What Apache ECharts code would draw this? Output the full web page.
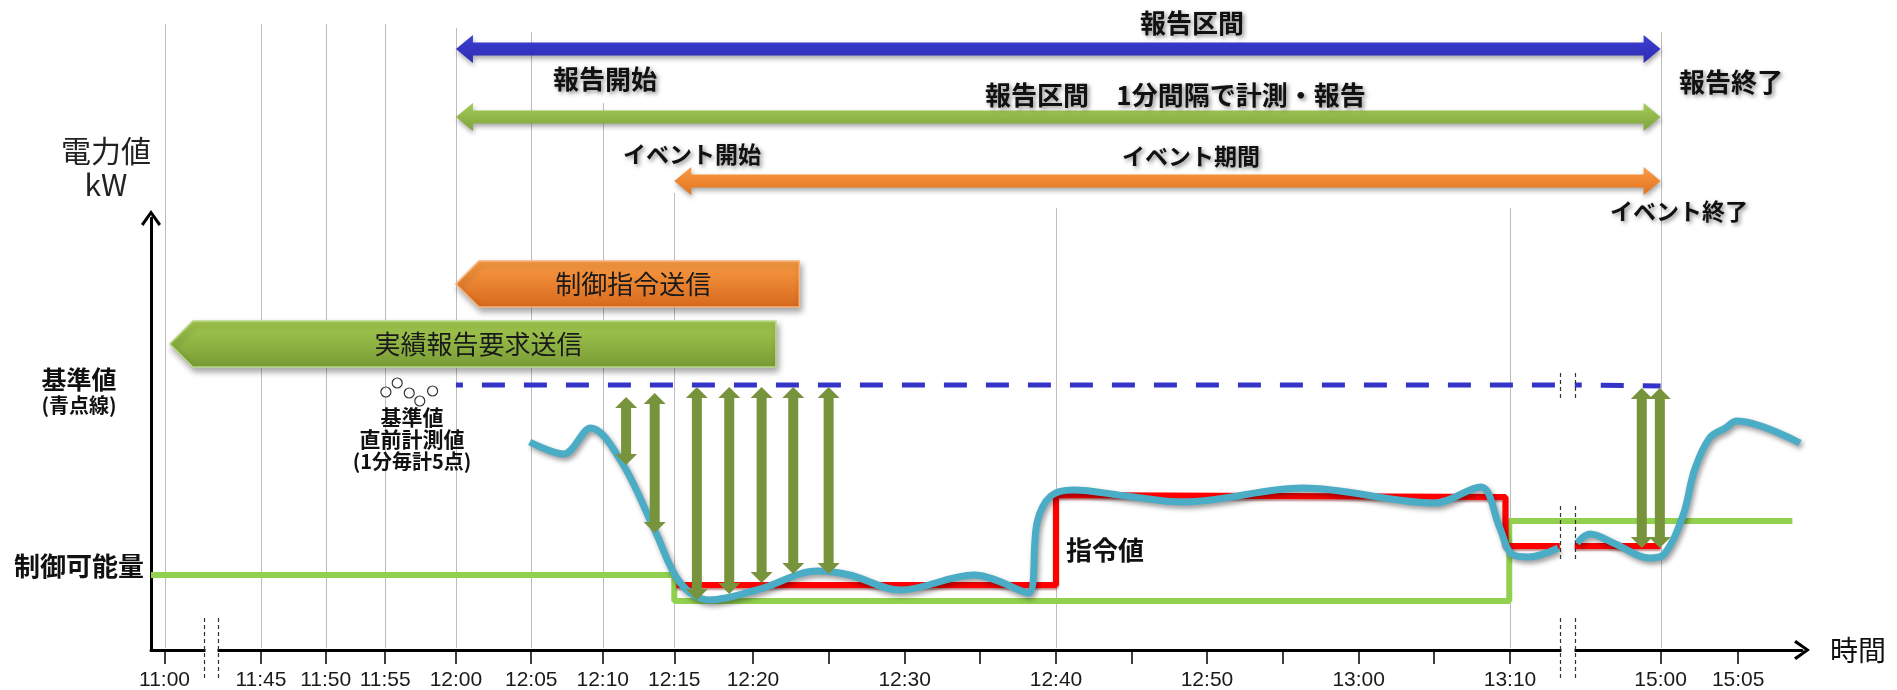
<!DOCTYPE html>
<html>
<head>
<meta charset="utf-8">
<script src="https://cdn.jsdelivr.net/npm/echarts@6/dist/echarts.min.js"></script>
<style>
  html, body { margin: 0; padding: 0; background: #fff; }
  #chart { width: 1897px; height: 690px; }
</style>
</head>
<body>
<div id="chart"></div>
<script>
// ---- Time axis: one unit = one 5-minute step, 12:00 = 0 ----
const tickLabels = ['11:00','11:45','11:50','11:55','12:00','12:05','12:10','12:15','12:20','','12:30','','12:40','','12:50','','13:00','','13:10','15:00','15:05'];
const tickPos    = [-3.87,-2.59,-1.73,-0.94,0,1,1.95,2.9,3.945,4.95,5.96,6.96,7.97,8.97,9.975,10.98,11.99,12.99,14,16,17.03];

// vertical guide lines (times)
const guideTimes = [-3.87,-2.59,-1.73,-0.94,0,1,1.95,2.9,7.97,14,16];

// axis breaks (11:00-11:45 and 13:10-15:00)
const breakFrom = [-3.35, 14.66];
const breakTo   = [-3.16, 14.86];

// reporting / event periods
const periodStart = [0, 0, 2.9];
const periodEnd   = [16, 16, 16];

// message banners
const msgText = ['制御指令送信', '実績報告要求送信'];
const msgFrom = [0, -3.8];
const msgTo   = [4.56, 4.25];

// baseline (blue dashed)
const baseX = [0, 14.66, 14.86, 16];
const baseY = [66.25, 66.25, 66.25, 66.0];

// controllable amount (green)
const capX = [-4.05, 2.9, 2.9, 13.99, 13.99, 17.75];
const capY = [18.75, 18.75, 12.25, 12.25, 32.25, 32.25];

// command value (red)
const cmdX = [2.93, 7.97, 7.97, 13.94, 13.94, 14.66, 14.86, 16];
const cmdY = [16.25, 16.25, 38.75, 38.25, 26, 26, 26, 26];

// measured power (before / after the break)
const measAX = [0.98, 1.43, 1.79, 2.2, 2.64, 2.98, 3.37, 4.04, 4.8, 5.23, 5.9, 6.88, 7.6, 7.72, 7.9, 8.2, 8.9, 9.66, 11.25, 13.0, 13.61, 13.86, 14.02, 14.25, 14.64];
const measAY = [52, 49, 55.5, 47, 30, 16.75, 12.5, 15.25, 19.75, 18.75, 15, 18.75, 14.25, 32, 38.5, 40, 38.5, 37, 40.5, 36.75, 40.75, 30.75, 24, 23.25, 25.5];
const measBX = [14.89, 15.06, 15.4, 15.85, 16.05, 16.3, 16.45, 16.65, 16.86, 17.01, 17.85];
const measBY = [26.75, 29, 26.5, 23, 24, 33.75, 45, 53, 55.5, 57.25, 51.75];

// five readings just before the event (1 per minute)
const refX = [-0.93, -0.78, -0.62, -0.48, -0.31];
const refY = [64.5, 66.75, 64.25, 62.25, 64.75];

// deviation from baseline
const devX      = [2.26, 2.64, 3.2, 3.63, 4.06, 4.48, 4.95, 15.75, 15.99];
const devTop    = [63.25, 64.25, 65.75, 65.75, 65.75, 65.75, 65.75, 65.5, 65.5];
const devBottom = [46.25, 29.25, 12.5, 14, 16.75, 19, 19, 25.5, 25.5];

// ---- layout / style ----
const X_MIN = -4.05, X_MAX = 17.878, Y_MAX = 108;
const AXIS_Y = 650;
const CJK = '"Noto Sans CJK JP", "Noto Sans CJK SC", sans-serif';
const LATIN = '"Liberation Sans", Arial, sans-serif';
const CHEVRON = 'path://M0,14 L10,0 L20,14 L17.6,16 L10,5 L2.4,16 Z';
const GUIDE_TOP = [24, 24, 24, 24, 28, 32, 103, 193, 208, 208, 32];
const ROW_Y = [49, 117, 181];
const ROW_FILL = [['#3f3fd2', '#2b2bb3'], ['#a5cb58', '#7ea33b'], ['#f99b46', '#e2731c']];
const MSG_Y = [284, 344];
const MSG_FILL = [['#fb9d44', '#d6681d'], ['#a4ca50', '#789b35']];
const MSG_STROKE = ['#f7b47f', '#bcd98b'];
const BREAK_SPANS = [[[618, 678]], [[373, 398], [506, 562], [618, 678]]];

function pairs(xs, ys) { return xs.map((x, i) => [x, ys[i]]); }
function withBreak(xs, ys, cut) {
  const d = pairs(xs, ys);
  return d.slice(0, cut).concat([[(xs[cut - 1] + xs[cut]) / 2, '-']], d.slice(cut));
}
function grad(c) {
  return new echarts.graphic.LinearGradient(0, 0, 0, 1, [{ offset: 0, color: c[0] }, { offset: 1, color: c[1] }]);
}
// polygon of a double-headed arrow from a to b
function dblArrow(a, b, shaft, headW, headL) {
  const dx = b[0] - a[0], dy = b[1] - a[1];
  const len = Math.hypot(dx, dy), ux = dx / len, uy = dy / len, nx = -uy, ny = ux;
  const s = shaft / 2, h = headW / 2;
  const p = (t, n) => [a[0] + ux * t + nx * n, a[1] + uy * t + ny * n];
  return [p(0, 0), p(headL, h), p(headL, s), p(len - headL, s), p(len - headL, h), p(len, 0),
          p(len - headL, -h), p(len - headL, -s), p(headL, -s), p(headL, -h)];
}

const measured = pairs(measAX, measAY).concat([[14.76, '-']], pairs(measBX, measBY));

const shadowText = {
  fontFamily: CJK, fontWeight: 'bold', fill: '#111',
  textShadowColor: 'rgba(0,0,0,0.45)', textShadowBlur: 4, textShadowOffsetX: 2, textShadowOffsetY: 2,
  align: 'center', verticalAlign: 'middle'
};
const notes = [
  ['報告区間', 1192, 23, 26],
  ['報告開始', 605, 79, 26],
  ['報告区間', 1037, 95, 26],
  ['1分間隔で計測・報告', 1241, 95, 26],
  ['報告終了', 1731, 82, 26],
  ['イベント開始', 692, 154, 23],
  ['イベント期間', 1191, 156, 23],
  ['イベント終了', 1679, 211, 23]
];
const plainBold = { fontFamily: CJK, fontWeight: 'bold', fill: '#111', align: 'center', verticalAlign: 'middle' };

const chart = echarts.init(document.getElementById('chart'), null, { renderer: 'canvas' });

chart.setOption({
  animation: false,
  backgroundColor: '#ffffff',
  grid: { left: 151, right: 95, top: 218, bottom: 40, containLabel: false, outerBoundsMode: 'none' },
  xAxis: {
    type: 'value', min: X_MIN, max: X_MAX,
    axisLine: { show: true, onZero: false, lineStyle: { color: '#000', width: 3 }, symbol: ['none', CHEVRON], symbolSize: [20, 16] },
    axisTick: { show: true, customValues: tickPos, length: 14, lineStyle: { color: '#000', width: 1.5 } },
    axisLabel: {
      customValues: tickPos, margin: 20, fontSize: 21, fontFamily: LATIN, color: '#1a1a1a',
      formatter: v => { const i = tickPos.findIndex(p => Math.abs(p - v) < 1e-6); return i >= 0 ? tickLabels[i] : ''; }
    },
    splitLine: { show: false },
    name: '時間', nameLocation: 'end', nameGap: 28,
    nameTextStyle: { fontSize: 28, fontFamily: CJK, color: '#111', verticalAlign: 'middle', align: 'left' }
  },
  yAxis: {
    type: 'value', min: 0, max: Y_MAX,
    axisLine: { show: true, onZero: false, lineStyle: { color: '#000', width: 3 }, symbol: ['none', CHEVRON], symbolSize: [20, 16] },
    axisTick: { show: false },
    splitLine: { show: false },
    axisLabel: {
      customValues: [18.75], margin: 7, color: '#111',
      formatter: () => '{c|制御可能量}',
      rich: {
        c: { fontSize: 26, fontWeight: 'bold', fontFamily: CJK, lineHeight: 26, padding: [0, 0, 18, 0] }
      }
    },
    name: '{a|電力値}\n{b|kW}', nameLocation: 'end', nameGap: 16,
    nameTextStyle: {
      align: 'center', padding: [0, 90, 0, 0],
      rich: {
        a: { fontSize: 30, fontFamily: CJK, color: '#222', align: 'center', lineHeight: 34 },
        b: { fontSize: 30, fontFamily: CJK, color: '#222', align: 'center', lineHeight: 34 }
      }
    }
  },
  graphic: {
    elements: notes.map(n => ({
      type: 'text', z: 30, silent: true,
      style: Object.assign({}, shadowText, { text: n[0], x: n[1], y: n[2], fontSize: n[3] })
    })).concat([
      { type: 'text', z: 30, silent: true, style: Object.assign({}, plainBold, { text: '基準値', x: 79, y: 379, fontSize: 25 }) },
      { type: 'text', z: 30, silent: true, style: Object.assign({}, plainBold, { text: '(青点線)', x: 79, y: 405, fontSize: 20 }) },
      { type: 'text', z: 30, silent: true, style: Object.assign({}, plainBold, { text: '指令値', x: 1105, y: 550, fontSize: 26 }) },
      {
        type: 'text', z: 30, silent: true,
        style: {
          text: '{a|基準値}\n{a|直前計測値}\n{b|(1分毎計5点)}', x: 412, y: 439, align: 'center', verticalAlign: 'middle', fill: '#111',
          rich: {
            a: { fontSize: 21, fontWeight: 'bold', fontFamily: CJK, lineHeight: 22, align: 'center' },
            b: { fontSize: 20, fontWeight: 'bold', fontFamily: CJK, lineHeight: 22, align: 'center' }
          }
        }
      }
    ])
  },
  series: [
    { // vertical guides
      type: 'custom', z: 1, silent: true, clip: false,
      data: guideTimes.map(t => [t]), encode: { x: 0 },
      renderItem(params, api) {
        const x = Math.round(api.coord([api.value(0), 0])[0]) + 0.5;
        return { type: 'line', shape: { x1: x, y1: GUIDE_TOP[params.dataIndex], x2: x, y2: AXIS_Y - 2 }, style: { stroke: '#bdbdbd', lineWidth: 1 } };
      }
    },
    { // reporting / event periods
      type: 'custom', z: 2, silent: true, clip: false,
      data: periodStart.map((s, i) => [s, periodEnd[i]]), encode: { x: [0, 1] },
      renderItem(params, api) {
        const i = params.dataIndex, y = ROW_Y[i];
        const x0 = api.coord([api.value(0), 0])[0], x1 = api.coord([api.value(1), 0])[0];
        return {
          type: 'polygon', shape: { points: dblArrow([x0, y], [x1, y], 13, 28, 17) },
          style: { fill: grad(ROW_FILL[i]), shadowBlur: 5, shadowOffsetX: 1, shadowOffsetY: 3, shadowColor: 'rgba(0,0,0,0.35)' }
        };
      }
    },
    { // message banners
      type: 'custom', z: 2, silent: true, clip: false,
      data: msgFrom.map((s, i) => [s, msgTo[i]]), encode: { x: [0, 1] },
      renderItem(params, api) {
        const i = params.dataIndex, yc = MSG_Y[i], h = 23, d = 23;
        const x0 = api.coord([api.value(0), 0])[0], x1 = api.coord([api.value(1), 0])[0];
        return {
          type: 'group', children: [
            {
              type: 'polygon', shape: { points: [[x0, yc], [x0 + d, yc - h], [x1, yc - h], [x1, yc + h], [x0 + d, yc + h]] },
              style: { fill: grad(MSG_FILL[i]), stroke: MSG_STROKE[i], lineWidth: 1.5, shadowBlur: 6, shadowOffsetX: 2, shadowOffsetY: 4, shadowColor: 'rgba(0,0,0,0.35)' }
            },
            {
              type: 'text',
              style: { text: msgText[i], x: (x0 + d / 2 + x1) / 2, y: yc, align: 'center', verticalAlign: 'middle', fontSize: 26, fontFamily: CJK, fill: '#1a1a1a' }
            }
          ]
        };
      }
    },
    { // controllable amount
      type: 'line', z: 3, name: '制御可能量', data: pairs(capX, capY), symbol: 'none',
      lineStyle: { color: '#92d050', width: 6 }
    },
    { // command value
      type: 'line', z: 3, name: '指令値', data: withBreak(cmdX, cmdY, 6), symbol: 'none',
      lineStyle: { color: '#ff0000', width: 6, shadowColor: 'rgba(120,0,0,0.45)', shadowBlur: 2, shadowOffsetY: 2 }
    },
    { // baseline
      type: 'line', z: 3, name: '基準値', data: withBreak(baseX, baseY, 2), symbol: 'none',
      lineStyle: { color: '#3434c8', width: 5, type: [23, 19], dashOffset: 16 }
    },
    { // measured power
      type: 'line', z: 4, name: '計測値', data: measured, symbol: 'none', smooth: 0.35,
      lineStyle: { color: '#4bacc6', width: 7, shadowColor: 'rgba(0,0,0,0.4)', shadowBlur: 5, shadowOffsetX: 2, shadowOffsetY: 3 }
    },
    { // readings before the event
      type: 'scatter', z: 5, data: pairs(refX, refY), symbol: 'circle', symbolSize: 10,
      itemStyle: { color: '#ffffff', borderColor: '#000', borderWidth: 1.2 }
    },
    { // deviation arrows
      type: 'custom', z: 5, silent: true, clip: false,
      data: devX.map((x, i) => [x, devTop[i], devBottom[i]]), encode: { x: 0, y: [1, 2] },
      renderItem(params, api) {
        const a = api.coord([api.value(0), api.value(1)]), b = api.coord([api.value(0), api.value(2)]);
        return { type: 'polygon', shape: { points: dblArrow(a, b, 10, 22, 11) }, style: { fill: '#77933c' } };
      }
    },
    { // axis breaks
      type: 'custom', z: 6, silent: true, clip: false,
      data: breakFrom.map((s, i) => [s, breakTo[i]]), encode: { x: [0, 1] },
      renderItem(params, api) {
        const x0 = Math.round(api.coord([api.value(0), 0])[0]) + 0.5;
        const x1 = Math.round(api.coord([api.value(1), 0])[0]) + 0.5;
        const kids = [{ type: 'rect', shape: { x: x0 + 1, y: AXIS_Y - 3, width: x1 - x0 - 2, height: 6 }, style: { fill: '#fff' } }];
        BREAK_SPANS[params.dataIndex].forEach(s => {
          [x0, x1].forEach(x => kids.push({
            type: 'line', shape: { x1: x, y1: s[0], x2: x, y2: s[1] },
            style: { stroke: '#333', lineWidth: 1.2, lineDash: [4, 3] }
          }));
        });
        return { type: 'group', children: kids };
      }
    }
  ]
});
</script>
</body>
</html>
